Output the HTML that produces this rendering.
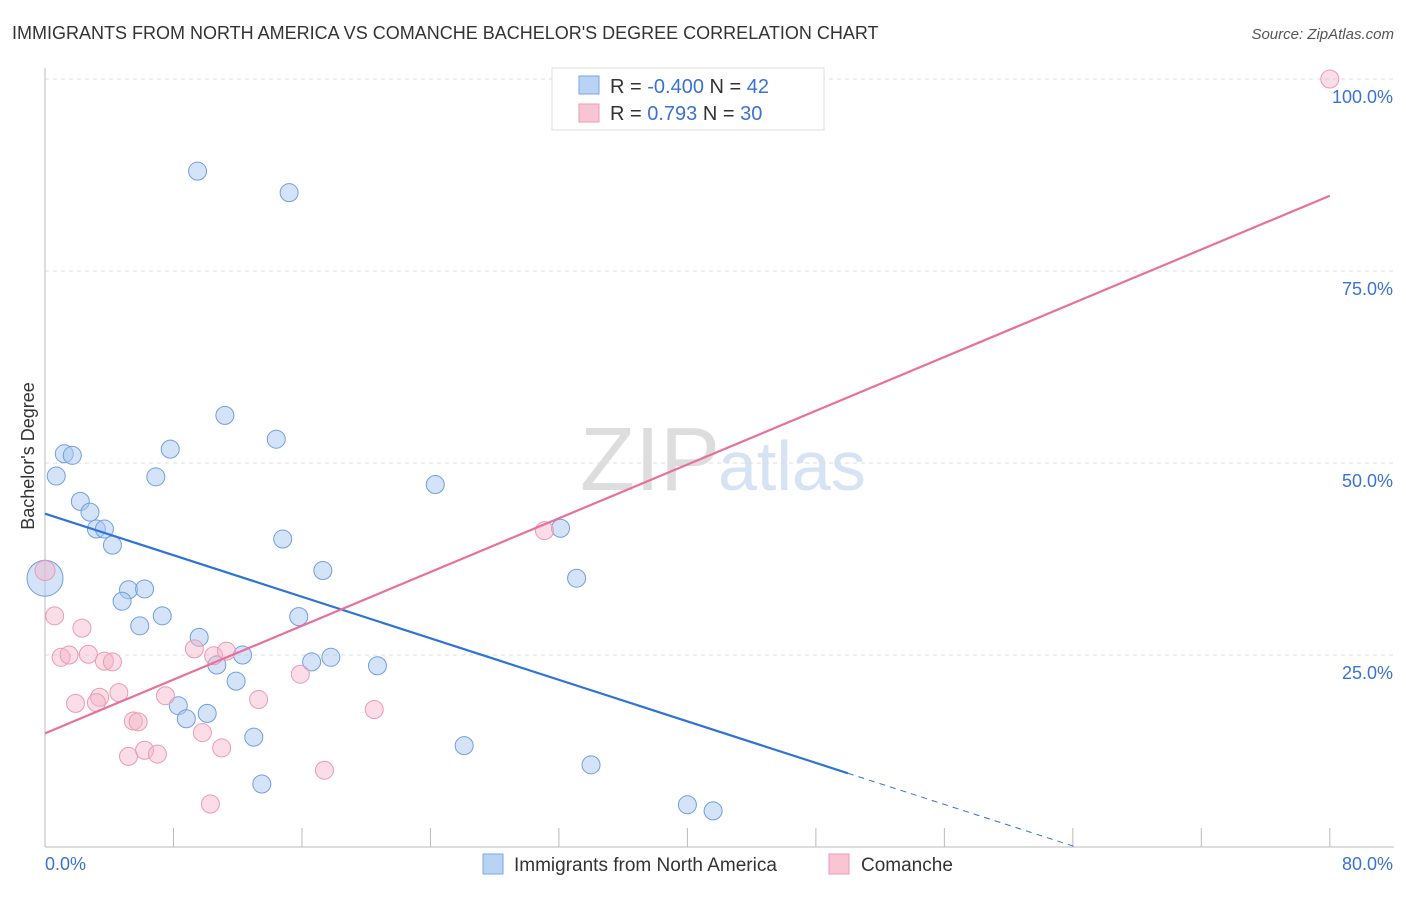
<!DOCTYPE html>
<html><head><meta charset="utf-8"><style>
body{margin:0;background:#fff;font-family:"Liberation Sans",sans-serif;}
svg text{font-family:"Liberation Sans",sans-serif;}
</style></head><body>
<svg id="c" width="1406" height="892">
<text x="12" y="39" font-size="18" fill="#333">IMMIGRANTS FROM NORTH AMERICA VS COMANCHE BACHELOR'S DEGREE CORRELATION CHART</text>
<text x="1394" y="39" font-size="15" fill="#555" font-style="italic" text-anchor="end">Source: ZipAtlas.com</text>
<text x="0" y="0" transform="translate(34,456) rotate(-90)" font-size="18" fill="#333" text-anchor="middle">Bachelor's Degree</text>
<text x="720" y="490" font-size="90" fill="#ddd" font-family="Liberation Serif" text-anchor="end">ZIP</text>
<text x="718" y="490" font-size="70" fill="#d5e3f5">atlas</text>
<g id="grid"></g><g id="axes"></g><g id="pts"></g><g id="lines"></g>
<g>
<rect x="552" y="68" width="272" height="62" fill="#fff" stroke="#ddd"/>
<rect x="579" y="76" width="20" height="18" fill="#b8d3f4" stroke="#7aa6e0"/>
<rect x="579" y="104" width="20" height="18" fill="#f9c5d4" stroke="#eb9ab3"/>
<text x="610" y="93" font-size="20" fill="#333">R = <tspan fill="#3a72d4">-0.400</tspan>   N = <tspan fill="#3a72d4">42</tspan></text>
<text x="610" y="120" font-size="20" fill="#333">R =    <tspan fill="#3a72d4">0.793</tspan>   N = <tspan fill="#3a72d4">30</tspan></text>
</g>
<g>
<rect x="483" y="854" width="20" height="20" fill="#b8d3f4" stroke="#7aa6e0"/>
<text x="514" y="871" font-size="19" fill="#333">Immigrants from North America</text>
<rect x="829" y="854" width="20" height="20" fill="#f9c5d4" stroke="#eb9ab3"/>
<text x="861" y="871" font-size="19" fill="#333">Comanche</text>
</g>
</svg>
<script>
const yTicks=[25,50,75,100];
const yTickLabels=["25.0%","50.0%","75.0%","100.0%"];
const blueX=[9.5,15.2,11.2,14.4,7.8,1.2,1.7,0.7,6.9,24.3,2.2,2.8,3.2,3.7,4.2,32.1,14.8,0,17.3,33.1,5.2,6.2,4.8,7.3,5.9,15.8,9.6,12.3,10.7,16.6,17.8,20.7,11.9,8.3,10.1,8.8,13.0,26.1,13.5,34.0,40.0,41.6];
const blueY=[88.0,85.2,56.2,53.1,51.8,51.2,51.0,48.3,48.2,47.2,45.0,43.6,41.4,41.4,39.3,41.5,40.1,35.0,36.0,35.0,33.5,33.6,32.0,30.1,28.8,30.0,27.3,25.0,23.7,24.1,24.7,23.6,21.6,18.4,17.4,16.7,14.3,13.2,8.2,10.7,5.5,4.7];
const pinkX=[80,0,0.6,2.3,1.0,1.5,2.7,3.7,4.2,9.3,10.5,11.3,4.6,3.4,3.2,1.9,7.5,13.3,15.9,20.5,5.5,5.8,9.8,11.0,5.2,6.2,7.0,17.4,10.3,31.1];
const pinkY=[100,36.0,30.1,28.5,24.7,25.0,25.1,24.2,24.1,25.8,24.9,25.5,20.1,19.5,18.8,18.7,19.7,19.2,22.5,17.9,16.4,16.3,14.9,12.9,11.8,12.6,12.1,10.0,5.6,41.2];
const blueSizes=[]; // default radius
const blueLine=[43.4,-0.676]; // intercept, slope
const pinkLine=[14.8,0.875];
const X=v=>45+v*16.06, Y=v=>847-v*7.68;
const NS="http://www.w3.org/2000/svg";
function mk(t,a,p){const e=document.createElementNS(NS,t);for(const k in a)e.setAttribute(k,a[k]);p.appendChild(e);return e;}
const grid=document.getElementById('grid'),axes=document.getElementById('axes');
yTicks.forEach((t,i)=>{
 const l=mk('line',{x1:45,x2:1394,y1:Y(t),y2:Y(t),stroke:'#ddd','stroke-dasharray':'4,4'},grid);
 
 
 const tx=mk('text',{x:1393,y:Y(t)+24,'font-size':18,fill:'#3a72d4','text-anchor':'end'},axes);
 tx.textContent=yTickLabels[i];
 
 
});
mk('line',{x1:45,x2:45,y1:68,y2:847,stroke:'#bbb'},axes);
mk('line',{x1:45,x2:1394,y1:847,y2:847,stroke:'#bbb'},axes);
for(let i=1;i<=10;i++){const t=mk('line',{x1:X(i*8),x2:X(i*8),y1:828,y2:847,stroke:'#bbb'},axes);
 
 }
[[0,"0.0%",'start'],[80,"80.0%",'end']].forEach(([v,s,a])=>{const t=mk('text',{x:a=='start'?45:1393,y:870,'font-size':18,fill:'#3a72d4','text-anchor':a},axes);t.textContent=s;
 
 });
const pts=document.getElementById('pts');
blueX.forEach((x,i)=>{const c=mk('circle',{cx:X(x),cy:Y(blueY[i]),r:i==17?18:9,fill:'rgba(170,200,240,0.5)',stroke:'#6f9fe0','stroke-width':1},pts);
 
 });
pinkX.forEach((x,i)=>{const c=mk('circle',{cx:X(x),cy:Y(pinkY[i]),r:i==1?10:9,fill:'rgba(245,180,200,0.45)',stroke:'#eb9ab3','stroke-width':1},pts);
 
 });
const lines=document.getElementById('lines');
const f=(L,x)=>L[0]+L[1]*x;
let b=mk('line',{x1:X(0),y1:Y(f(blueLine,0)),x2:X(50),y2:Y(f(blueLine,50)),stroke:'#2f73d8','stroke-width':2.2},lines);


const xe=-blueLine[0]/blueLine[1];
let bd=mk('line',{x1:X(50),y1:Y(f(blueLine,50)),x2:X(xe),y2:Y(0),stroke:'#2f73d8','stroke-width':1,'stroke-dasharray':'6,5'},lines);


let p=mk('line',{x1:X(0),y1:Y(f(pinkLine,0)),x2:X(80),y2:Y(f(pinkLine,80)),stroke:'#e8709a','stroke-width':2.2},lines);


</script>
</body></html>
